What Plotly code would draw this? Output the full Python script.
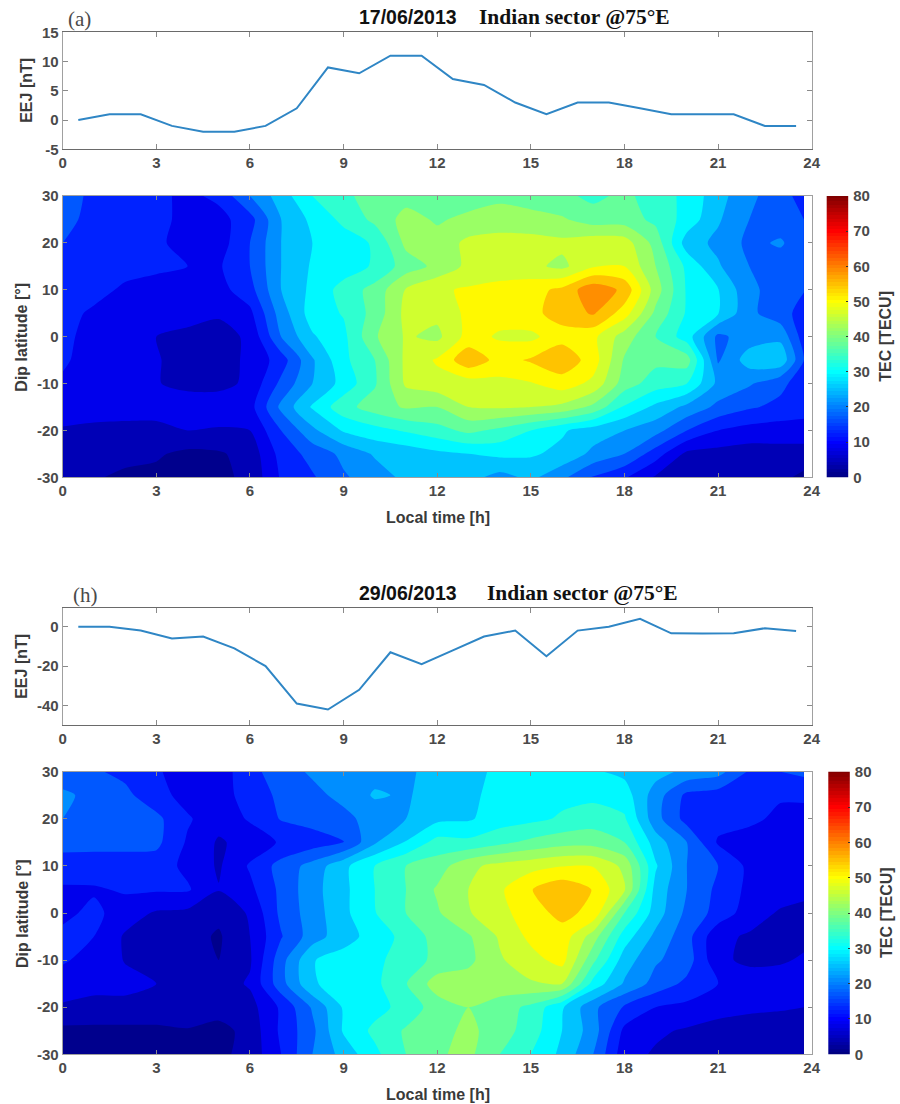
import plotly.graph_objects as go

W, H = 900, 1104

LOCAL_TIME_LINE = [h + 0.5 for h in range(24)]
EEJ_A = [0, 1, 1, -1, -2, -2, -1, 2, 9, 8, 11, 11, 7, 6, 3, 1, 3, 3, 2, 1, 1, 1, -1, -1]
EEJ_B = [0, 0, -2, -6, -5, -11, -20, -39, -42, -32, -13, -19, -12, -5, -2, -15, -2, 0, 4, -3.4, -3.5, -3.4, -0.8, -2.2]

HOURS = list(range(24)) + [23.75]
LATS = [30, 25, 20, 15, 10, 5, 0, -5, -10, -15, -20, -25, -30]

TEC_A = [
    [18, 15, 14, 13, 11, 13, 20, 26, 32, 35.5, 37, 38.5, 38, 38, 39, 38, 37, 35, 37, 34, 31, 25.5, 21, 17.5, 14.5],
    [17, 15, 14, 13, 11, 10.5, 14.5, 24, 29, 33, 37, 41.5, 39.5, 41, 42, 41.5, 40.5, 38, 38, 35, 30.5, 24.5, 20, 18, 16],
    [16, 14, 14, 13, 10, 10, 16, 24, 28, 30, 32.5, 41, 41.5, 45, 45.5, 45.5, 45, 46.5, 46, 38.5, 26, 23, 19, 20.5, 17.5],
    [15, 14, 13, 12.5, 12, 11.5, 16, 24, 28.5, 30, 32.5, 38, 41, 45, 45.5, 45, 43, 47.5, 48, 40, 31, 24.5, 20, 18, 17.5],
    [14, 13, 11.5, 11, 11, 10.5, 14.5, 24, 29, 33.5, 37.5, 44.3, 47.4, 48.5, 49.5, 50.5, 53, 59, 55, 42, 31.5, 28.2, 21, 18, 16.2],
    [13, 11.5, 10.5, 10, 9.5, 8.5, 11, 22, 30, 32.3, 37.5, 45.2, 45, 49, 49.5, 51, 53.6, 56.5, 50, 39, 31.5, 28.2, 21, 17.5, 14.5],
    [13, 10.5, 9, 8, 7, 6.5, 8.7, 20, 27.5, 31, 39.5, 44.5, 43, 49.5, 47.5, 47, 50.5, 49, 42, 36, 30, 19, 22, 23, 14],
    [12.5, 10.5, 9.5, 8.2, 7, 6.5, 8.7, 14, 23.5, 31, 36, 45, 48.5, 55, 50.5, 52.5, 55, 50, 39.5, 37, 38, 19.5, 26, 27, 16],
    [11.5, 10, 9, 8.2, 7, 6.5, 9, 17, 24, 29.5, 35.5, 44.7, 46.5, 46, 47, 47.7, 50, 47, 38, 34, 32, 23, 20.5, 17, 14],
    [10.5, 10, 9.5, 9.5, 10, 11, 10.5, 21, 28.5, 34.5, 38, 40.5, 40, 44, 44.5, 44, 43, 39, 31.5, 27, 23, 19, 16.5, 15, 14],
    [7.5, 7, 7, 7, 8, 7.5, 8, 16, 23, 28.5, 30.5, 32.5, 34.5, 37, 35, 32, 28.5, 26, 24, 21.5, 16, 12, 10.5, 10, 10],
    [6, 6, 5.5, 4.5, 3, 3.5, 5.5, 13.5, 17.5, 21, 24.5, 25.5, 27, 28, 29, 28.5, 27, 23, 20, 14, 7, 6.5, 6, 6.5, 6.5],
    [6, 4.5, 3, 3, 3, 3, 5, 12.5, 15.5, 19.5, 22, 25, 26, 25.5, 22.5, 25, 21, 15.5, 12.5, 7.5, 4.5, 6, 5.5, 5, 3],
]

TEC_B = [
    [17, 16.5, 15, 12.5, 10, 10, 14.5, 18.5, 20.5, 22, 22.5, 23.5, 25, 26.5, 29, 30, 30, 28.5, 27, 25.5, 23, 21.5, 15.5, 16, 17],
    [21, 18.5, 17, 13.5, 10.5, 10.5, 13.5, 17, 19, 21, 24.5, 23.5, 26, 27, 29.5, 30, 31, 31, 30, 22, 15, 14, 14, 12.5, 12.5],
    [20, 18, 17.5, 17, 12.5, 9.5, 12.5, 16.3, 17.5, 19, 21.5, 24, 27, 27.5, 30, 31, 32.5, 34, 32.5, 21.5, 14.5, 13.5, 13, 11, 11],
    [17.5, 17, 17, 17, 11.5, 7.5, 9.5, 12.5, 14, 15.7, 23.5, 28.3, 33.5, 33, 35, 37, 38.5, 38.5, 36, 26, 20, 11.5, 10, 10, 10],
    [14, 14.5, 14.5, 14, 11, 7.5, 12.5, 17.5, 21.5, 27, 32, 36, 38, 43, 45.3, 46.5, 47.8, 47.8, 43, 28.5, 20, 16, 11, 10, 10],
    [11.5, 11.5, 12.5, 12.5, 12.5, 8.2, 11, 17, 22.5, 27, 32, 36, 40.5, 44, 47.3, 51.8, 55, 51.8, 44.5, 26.5, 20, 15, 11, 10, 9],
    [11, 13, 10, 7.5, 7, 5, 8.5, 17, 22, 27, 31.8, 36, 39.5, 43.7, 46.5, 50.5, 53, 51, 36, 26, 19, 14.5, 10, 7.5, 7],
    [13, 12, 7.5, 6, 5.5, 3.5, 8, 15.7, 22, 26.5, 29.5, 33.5, 37.5, 39.5, 44.5, 49, 50.5, 42, 30, 23, 17.5, 9, 7.5, 7, 7],
    [12.5, 10.5, 7.8, 7, 6.5, 4, 7.5, 18.5, 27.8, 29.5, 31, 34, 37, 39, 43.5, 46.5, 49.5, 37, 26, 20.5, 18, 9, 7, 7.5, 8.5],
    [10, 9, 9, 8, 6.5, 6, 8.5, 18.5, 27.5, 30, 31, 35.8, 42, 42, 42.5, 43.5, 44, 30.5, 23.5, 18.5, 15, 12, 10.5, 10, 10.5],
    [7.5, 7, 7, 7, 6.5, 6, 6.5, 12.7, 20.5, 28.5, 30.5, 33.5, 38, 40, 38, 35, 28.5, 21, 15.5, 12, 11, 10, 9, 8.5, 8],
    [3, 3, 3, 3, 3.7, 2.5, 5.5, 12.8, 19, 28.5, 33, 36.5, 38.5, 41, 38, 34, 28, 22, 11, 8.7, 7.5, 6, 5.5, 5.5, 6],
    [2.5, 2.5, 2.5, 2.5, 3, 3, 5.5, 12, 20, 25.5, 31, 36, 39.5, 41, 36, 32, 27, 20, 9.5, 7.5, 6.5, 6.5, 6, 6, 6],
]

X_TICKS = [0, 3, 6, 9, 12, 15, 18, 21, 24]
EEJ_TICKS_A = [-5, 0, 5, 10, 15]
EEJ_TICKS_B = [-40, -20, 0]
LAT_TICKS = [-30, -20, -10, 0, 10, 20, 30]
CB_TICKS = [0, 10, 20, 30, 40, 50, 60, 70, 80]
CB_LEVELS = list(range(0, 81))
BAND_SIZE = 4

JET = [[0, "#000080"], [0.125, "#0000ff"], [0.375, "#00ffff"], [0.625, "#ffff00"], [0.875, "#ff0000"], [1, "#800000"]]


def jet_rgb(v):
    v = max(0.0, min(1.0, v))
    stops = [(0, (0, 0, 128)), (0.125, (0, 0, 255)), (0.375, (0, 255, 255)), (0.625, (255, 255, 0)), (0.875, (255, 0, 0)), (1, (128, 0, 0))]
    for (a, ca), (b, cb) in zip(stops, stops[1:]):
        if v <= b:
            t = (v - a) / (b - a)
            return "rgb(%d,%d,%d)" % tuple(round(p + (q - p) * t) for p, q in zip(ca, cb))
    return "rgb(128,0,0)"


# Each band takes the jet colour of its midpoint. plotly looks its fill up at L+2 on a domain of -2..82.
BANDS = [[0.0, jet_rgb(0)]]
for L in range(0, 80, BAND_SIZE):
    BANDS.append([(L + BAND_SIZE) / 84, jet_rgb((L + BAND_SIZE / 2) / 80)])
BANDS.append([1.0, jet_rgb(1)])

fig = go.Figure()


def px_x(a, b):
    return [a / W, b / W]


def px_y(top, bottom):
    return [1 - bottom / H, 1 - top / H]


TICK_FONT = dict(family="Liberation Sans", size=15, color="#4a4a4a", weight="bold")


def axis_style(**kw):
    d = dict(showgrid=False, zeroline=False, showline=True, mirror="ticks", linecolor="#6a6a6a", linewidth=1,
             ticks="inside", ticklen=5, tickcolor="#8a8a8a", tickwidth=1, tickfont=TICK_FONT, automargin=False)
    d.update(kw)
    return d


def label(x, y, text, family, size, color="#111111", angle=0, anchor="left"):
    fig.add_annotation(x=x / W, y=1 - y / H, xref="paper", yref="paper", text=text, showarrow=False, xanchor=anchor, yanchor="middle",
                       textangle=angle, font=dict(family=family, size=size, color=color))


def panel(idx, eej, tec, line_box, map_box, eej_range, eej_ticks, cb_left, eej_label_x):
    ax = 3 * idx - 2
    bx = 3 * idx - 1
    cx = 3 * idx
    fig.add_trace(go.Scatter(x=LOCAL_TIME_LINE, y=eej, mode="lines", line=dict(color="#2f86c5", width=2),
                             xaxis=f"x{ax}", yaxis=f"y{ax}", showlegend=False))
    fig.add_trace(go.Contour(x=HOURS, y=LATS, z=tec, zmin=0, zmax=80, colorscale=BANDS, showscale=False,
                             contours=dict(start=0, end=80, size=BAND_SIZE, coloring="fill", showlines=False),
                             line=dict(width=0, smoothing=0.7), xaxis=f"x{bx}", yaxis=f"y{bx}", showlegend=False))
    fig.add_trace(go.Heatmap(x=[0, 1], y=CB_LEVELS, z=[[v, v] for v in CB_LEVELS], zmin=0, zmax=80, colorscale=JET, showscale=False,
                             xaxis=f"x{cx}", yaxis=f"y{cx}"))
    fig.layout[f"xaxis{ax}"] = axis_style(domain=px_x(62.7, 811.7), range=[0, 24], tickvals=X_TICKS, ticktext=[str(v) for v in X_TICKS], anchor=f"y{ax}")
    fig.layout[f"yaxis{ax}"] = axis_style(domain=px_y(*line_box), range=eej_range, tickvals=eej_ticks, ticktext=[str(v) for v in eej_ticks], anchor=f"x{ax}", linecolor="#a0a0a0")
    fig.layout[f"xaxis{bx}"] = axis_style(domain=px_x(62.7, 811.7), range=[0, 24], tickvals=X_TICKS, ticktext=[str(v) for v in X_TICKS], anchor=f"y{bx}", linecolor="#a0a0a0", ticklen=4)
    fig.layout[f"yaxis{bx}"] = axis_style(domain=px_y(*map_box), range=[-30, 30], tickvals=LAT_TICKS, ticktext=[str(v) for v in LAT_TICKS], anchor=f"x{bx}", linecolor="#a0a0a0", ticklen=4)
    fig.layout[f"xaxis{cx}"] = dict(domain=px_x(cb_left, cb_left + 21.5), range=[0, 1], visible=False, anchor=f"y{cx}")
    fig.layout[f"yaxis{cx}"] = dict(domain=px_y(*map_box), range=[0, 80], side="right", anchor=f"x{cx}", tickvals=CB_TICKS, ticktext=[str(v) for v in CB_TICKS],
                                    ticks="inside", ticklen=2, tickcolor="#333333", tickfont=TICK_FONT, showgrid=False, zeroline=False, showline=False, automargin=False, ticklabelstandoff=4)
    label(eej_label_x, (line_box[0] + line_box[1]) / 2, "<b>EEJ [nT]</b>", "Liberation Sans", 16, "#3a3a3a", -90, "center")
    label(22, (map_box[0] + map_box[1]) / 2 + 1, "<b>Dip latitude [°]</b>", "Liberation Sans", 16, "#3a3a3a", -90, "center")
    label(438, map_box[1] + 40, "<b>Local time [h]</b>", "Liberation Sans", 16, "#3a3a3a", 0, "center")
    label(886, (map_box[0] + map_box[1]) / 2, "<b>TEC [TECU]</b>", "Liberation Sans", 16, "#3a3a3a", -90, "center")


panel(1, EEJ_A, TEC_A, (32.3, 149.3), (196, 477.3), [-5, 15], EEJ_TICKS_A, 826.7, 27)
panel(2, EEJ_B, TEC_B, (608.3, 725.3), (771.7, 1054.3), [-50, 9.3], EEJ_TICKS_B, 828.3, 22)

label(66, 19, "(a)", "Liberation Serif", 21, "#4a4a4a")
label(357, 17, "<b>17/06/2013</b>", "Liberation Sans", 19.5)
label(477, 17, "<b>Indian sector @75°E</b>", "Liberation Serif", 21.5)
label(71, 595, "(h)", "Liberation Serif", 21, "#4a4a4a")
label(357, 593, "<b>29/06/2013</b>", "Liberation Sans", 19.5)
label(485, 593, "<b>Indian sector @75°E</b>", "Liberation Serif", 21.5)

fig.update_layout(width=W, height=H, margin=dict(l=0, r=0, t=0, b=0), paper_bgcolor="white", plot_bgcolor="white", showlegend=False)
fig.write_html("out.html", post_script="document.body.style.margin='0';", config=dict(displayModeBar=False))
